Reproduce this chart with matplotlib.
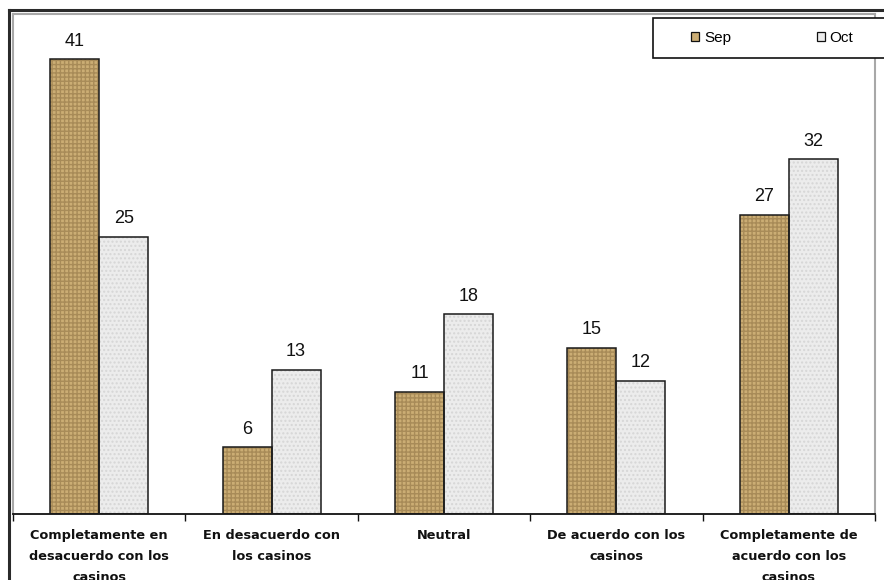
import matplotlib
matplotlib.use("Agg")
import matplotlib.pyplot as plt
from matplotlib.lines import Line2D
from matplotlib.patches import Rectangle, Patch
import numpy as np

categories = [
    "Completamente en\ndesacuerdo con los\ncasinos",
    "En desacuerdo con\nlos casinos",
    "Neutral",
    "De acuerdo con los\ncasinos",
    "Completamente de\nacuerdo con los\ncasinos",
]
series_names = ["Sep", "Oct"]
sep_values = [41, 6, 11, 15, 27]
oct_values = [25, 13, 18, 12, 32]

W, H = 884, 580
fig = plt.figure(figsize=(W / 100, H / 100), dpi=100)
fig.patch.set_facecolor("white")

# plot area in pixel coords
left_px, right_px, top_px, bottom_px = 13, 875, 14, 514
ax = fig.add_axes([left_px / W, 1 - bottom_px / H, (right_px - left_px) / W, (bottom_px - top_px) / H])
ax.set_facecolor("white")

x = np.arange(len(categories))
bw = 0.284

sep_face, sep_hatch = "#cbad74", "#a88b58"
oct_face, oct_hatch = "#ececec", "#d6d6d6"

# textured fill (hatch drawn in texture colour), then black outline
ax.bar(x - bw / 2, sep_values, bw, color=sep_face, edgecolor=sep_hatch, hatch="++++", linewidth=0, zorder=2)
ax.bar(x + bw / 2, oct_values, bw, color=oct_face, edgecolor=oct_hatch, hatch="....", linewidth=0, zorder=2)
ax.bar(x - bw / 2, sep_values, bw, fill=False, edgecolor="#1a1a1a", linewidth=1.1, zorder=3)
ax.bar(x + bw / 2, oct_values, bw, fill=False, edgecolor="#1a1a1a", linewidth=1.1, zorder=3)

for xi, v in zip(x, sep_values):
    ax.annotate(str(v), (xi - bw / 2, v), xytext=(0, 7), textcoords="offset points",
                ha="center", va="bottom", fontsize=13, family="Liberation Sans", color="#111111")
for xi, v in zip(x, oct_values):
    ax.annotate(str(v), (xi + bw / 2, v), xytext=(0, 7), textcoords="offset points",
                ha="center", va="bottom", fontsize=13, family="Liberation Sans", color="#111111")

ax.set_xlim(-0.5, len(categories) - 0.5)
ax.set_ylim(0, 45.1)
ax.set_yticks([])

ax.set_xticks(x)
ax.set_xticklabels(categories, fontsize=9.3, fontweight="bold", family="DejaVu Sans",
                   linespacing=1.78, color="#111111")
ax.tick_params(axis="x", which="major", length=0, pad=11)
ax.set_xticks(np.arange(-0.5, len(categories) + 0.5, 1.0), minor=True)
ax.tick_params(axis="x", which="minor", length=5, width=1.0, direction="out", color="#111111")

for s in ["top", "left", "right"]:
    ax.spines[s].set_color("#a8a8a8")
    ax.spines[s].set_linewidth(1.5)
ax.spines["bottom"].set_color("#111111")
ax.spines["bottom"].set_linewidth(1.3)

# outer chart frame (dark), extending beyond the image to right and bottom
fig.add_artist(Line2D([9 / W, 9 / W], [0, 1 - 10 / H], color="#2a2a2a", linewidth=2.2, transform=fig.transFigure))
fig.add_artist(Line2D([9 / W, 1.0], [1 - 10 / H, 1 - 10 / H], color="#2a2a2a", linewidth=2.2, transform=fig.transFigure))

# legend frame box (runs off the right edge like the reference)
fig.add_artist(Rectangle((653 / W, 1 - 58 / H), 260 / W, 40 / H, transform=fig.transFigure,
                         facecolor="white", edgecolor="#111111", linewidth=1.2, zorder=4))

handles = [
    Patch(facecolor=sep_face, edgecolor="#111111", linewidth=0.9),
    Patch(facecolor=oct_face, edgecolor="#111111", linewidth=0.9),
]
leg = fig.legend(handles, series_names, loc="center left", ncol=2,
                 bbox_to_anchor=(691 / W, 1 - 38 / H),
                 bbox_transform=fig.transFigure,
                 frameon=False, handlelength=0.55, handleheight=0.6,
                 handletextpad=0.3, borderpad=0.0, borderaxespad=0.0, columnspacing=5.6,
                 prop={"family": "Liberation Sans", "size": 11})
leg.set_zorder(6)

fig.savefig("out.png", dpi=100, facecolor="white")
